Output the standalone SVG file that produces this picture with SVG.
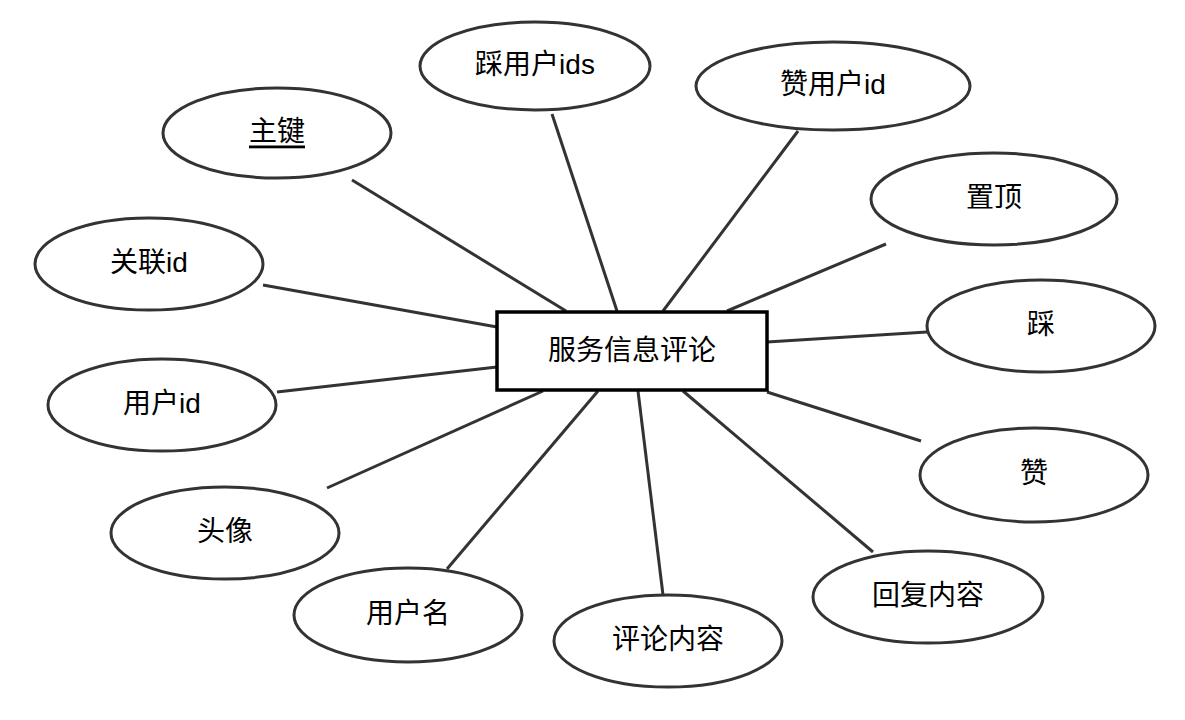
<svg xmlns="http://www.w3.org/2000/svg" width="1185" height="720" viewBox="0 0 1185 720">
<style>
.attr ellipse{fill:#fff;stroke:#333;stroke-width:3}
.ent rect{fill:#fff;stroke:#000;stroke-width:3.5}
text{font-family:"Liberation Sans","Noto Sans CJK SC",sans-serif;font-size:28px;fill:#000;text-anchor:middle;dominant-baseline:central}
#connectors line{stroke:#333;stroke-width:3}
</style>
<rect width="1185" height="720" fill="#fff"/>
<g id="connectors">
<line x1="352" y1="180" x2="566" y2="311"/>
<line x1="552" y1="114" x2="617" y2="311"/>
<line x1="798" y1="131" x2="663" y2="311"/>
<line x1="886" y1="244" x2="727" y2="311"/>
<line x1="263" y1="285" x2="497" y2="327"/>
<line x1="277" y1="392" x2="497" y2="367"/>
<line x1="327" y1="488" x2="543" y2="391"/>
<line x1="447" y1="569" x2="598" y2="391"/>
<line x1="663" y1="595" x2="638" y2="391"/>
<line x1="873" y1="552" x2="683" y2="391"/>
<line x1="921" y1="441" x2="767" y2="392"/>
<line x1="927" y1="332" x2="767" y2="342"/>
</g>
<g id="entity" class="ent"><rect x="497" y="312" width="270" height="78"/><text x="632" y="350">服务信息评论</text></g>
<g id="pk" class="attr"><ellipse cx="277" cy="133" rx="114" ry="45"/><text x="277" y="131" text-decoration="underline">主键</text></g>
<g id="cai_ids" class="attr"><ellipse cx="535" cy="66" rx="115" ry="44"/><text x="535" y="64">踩用户ids</text></g>
<g id="zan_id" class="attr"><ellipse cx="833" cy="86" rx="137" ry="44"/><text x="833" y="84">赞用户id</text></g>
<g id="top" class="attr"><ellipse cx="994" cy="199" rx="123" ry="46"/><text x="994" y="197">置顶</text></g>
<g id="rel_id" class="attr"><ellipse cx="149" cy="264" rx="114" ry="46"/><text x="149" y="262">关联id</text></g>
<g id="user_id" class="attr"><ellipse cx="162" cy="405" rx="114" ry="46"/><text x="162" y="403">用户id</text></g>
<g id="cai" class="attr"><ellipse cx="1041" cy="326" rx="114" ry="46"/><text x="1041" y="324">踩</text></g>
<g id="zan" class="attr"><ellipse cx="1034" cy="475" rx="114" ry="47"/><text x="1034" y="473">赞</text></g>
<g id="avatar" class="attr"><ellipse cx="225" cy="533" rx="114" ry="46"/><text x="225" y="531">头像</text></g>
<g id="username" class="attr"><ellipse cx="408" cy="615" rx="114" ry="47"/><text x="408" y="613">用户名</text></g>
<g id="content" class="attr"><ellipse cx="668" cy="641" rx="114" ry="46"/><text x="668" y="639">评论内容</text></g>
<g id="reply" class="attr"><ellipse cx="928" cy="597" rx="115" ry="46"/><text x="928" y="595">回复内容</text></g>
</svg>
